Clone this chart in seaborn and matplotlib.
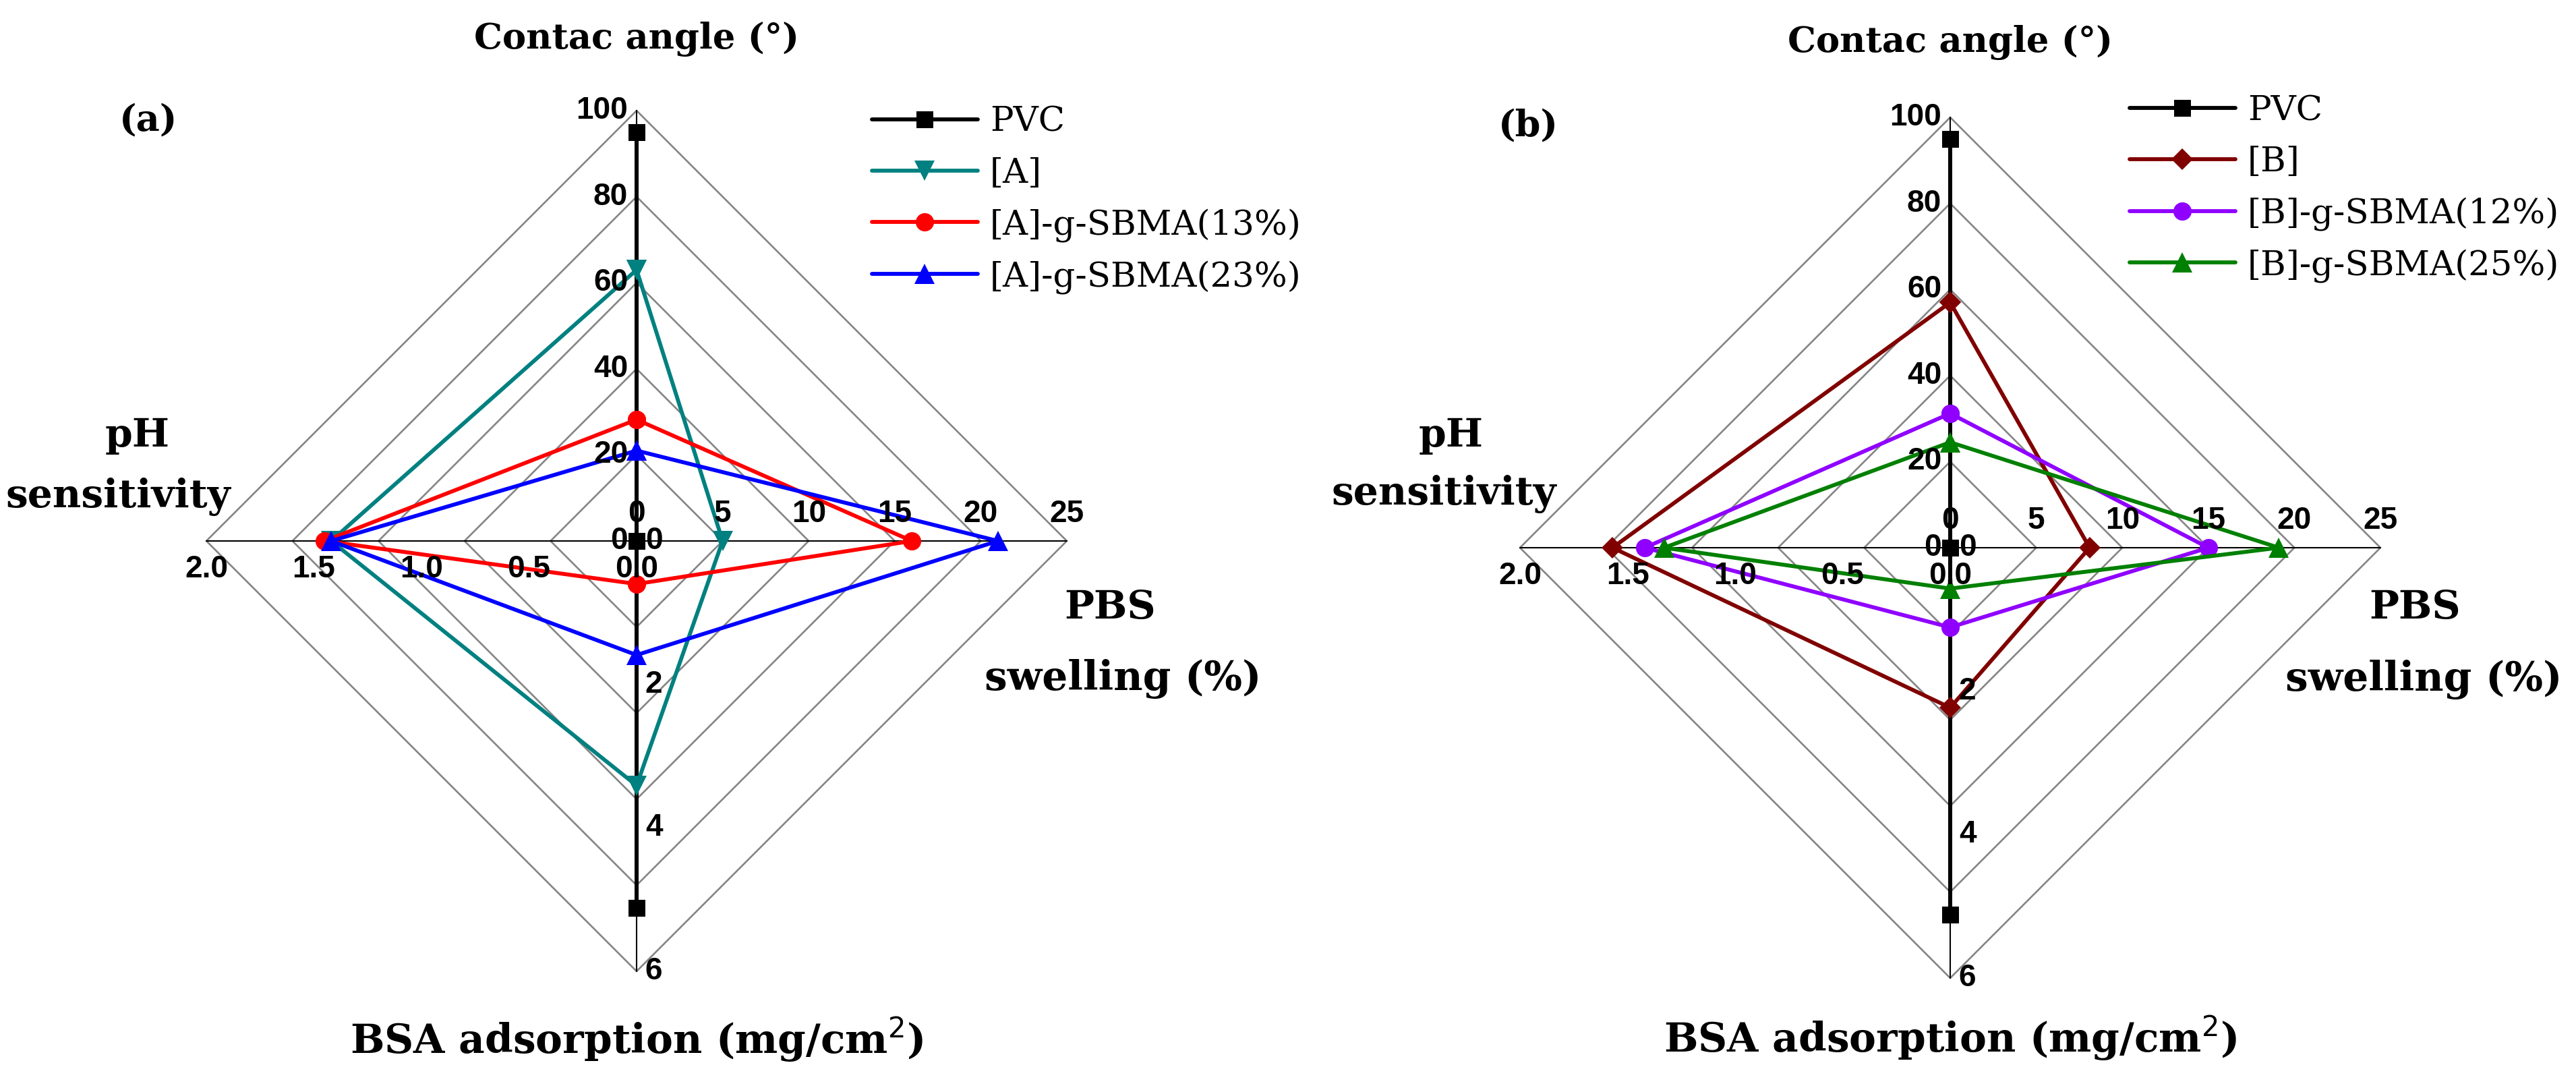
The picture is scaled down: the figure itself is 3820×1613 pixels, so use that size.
import numpy as np
import pandas as pd
import seaborn as sns
import matplotlib.pyplot as plt

# radar axes: top, right, bottom, left
axis_max = [100, 25, 6, 2.0]

ticks_ca = [0, 20, 40, 60, 80, 100]
ticks_pbs = [0, 5, 10, 15, 20, 25]
ticks_bsa = [0, 2, 4, 6]
ticks_ph = [0.0, 0.5, 1.0, 1.5, 2.0]

# values: contact angle, PBS swelling, BSA adsorption, pH sensitivity
pvc = [95, 0, 5.12, 0]

labels_a = ['PVC', '[A]', '[A]-g-SBMA(13%)', '[A]-g-SBMA(23%)']
a_pure = [63, 5.0, 3.41, 1.42]
a_13 = [28.2, 16.0, 0.60, 1.45]
a_23 = [21.0, 21.0, 1.59, 1.42]

labels_b = ['PVC', '[B]', '[B]-g-SBMA(12%)', '[B]-g-SBMA(25%)']
b_pure = [57, 8.1, 2.23, 1.57]
b_12 = [31.2, 15.0, 1.11, 1.42]
b_25 = [24.5, 19.1, 0.57, 1.33]

colors_a = ['black', '#008080', '#ff0000', '#0000ff']
markers_a = ['s', 'v', 'o', '^']
colors_b = ['black', '#800000', '#8f00ff', '#008000']
markers_b = ['s', 'D', 'o', '^']

sns.set_style('white')
plt.rcParams['font.family'] = ['DejaVu Serif']
plt.rcParams['text.color'] = 'black'

W, H = 3820, 1613
fig = plt.figure(figsize=(W / 100, H / 100), dpi=100)

dirs = np.array([[0, 1], [1, 0], [0, -1], [-1, 0]])


def to_xy(vals):
    r = np.array(vals) / np.array(axis_max)
    pts = dirs * r[:, None]
    pts = np.vstack([pts, pts[:1]])
    return pd.DataFrame({'x': pts[:, 0], 'y': pts[:, 1]})


msize = {'s': 18, 'v': 21, 'o': 19.5, '^': 21, 'D': 16}


def panel(cx, cy, R, tag, series, labels, colors, markers, pos):
    ax = fig.add_axes([(cx - 1.45 * R) / W, (H - cy - 1.26 * R) / H, 2.9 * R / W, 2.52 * R / H])
    ax.set_xlim(-1.45, 1.45)
    ax.set_ylim(-1.26, 1.26)
    ax.axis('off')

    # grid rings
    for r in [0.2, 0.4, 0.6, 0.8, 1.0]:
        ax.plot([0, r, 0, -r, 0], [r, 0, -r, 0, r], color='#858585', linewidth=1.9, zorder=1)
    ax.plot([-1, 1], [0, 0], color='black', linewidth=1.5, zorder=2)
    ax.plot([0, 0], [-1, 1], color='black', linewidth=1.5, zorder=2)

    handles = []
    for vals, lab, col, mk in zip(series, labels, colors, markers):
        df = to_xy(vals)
        sns.lineplot(data=df, x='x', y='y', sort=False, estimator=None, ax=ax,
                     color=col, marker=mk, markersize=msize[mk],
                     markeredgecolor=col, markeredgewidth=0, zorder=3)
        line = ax.lines[-1]
        line.set_linewidth(4.2)
        handles.append(line)
    leg = ax.legend(handles, labels, loc='center left', bbox_to_anchor=pos['leg'],
                    bbox_transform=ax.transData, fontsize=37, frameon=True,
                    facecolor='white', edgecolor='none', framealpha=1,
                    borderpad=0, borderaxespad=0, handlelength=3.05,
                    handletextpad=0.35, labelspacing=0.52)
    leg.set_zorder(5)

    tick_kw = dict(family='Liberation Sans', fontweight='bold', fontsize=33, zorder=4)
    for v in ticks_ca:
        ax.text(-0.02, v / 100, f'{v}', ha='right', va='center', **tick_kw)
    for v in ticks_pbs:
        ax.text(v / 25, 0.062, f'{v}', ha='center', va='center', **tick_kw)
    for v in ticks_bsa:
        ax.text(0.02, -v / 6, f'{v}', ha='left', va='center', **tick_kw)
    for v in ticks_ph:
        ax.text(-v / 2, -0.066, f'{v:.1f}', ha='center', va='center', **tick_kw)

    tk = dict(fontweight='bold', ha='center', va='center')
    ax.text(0, pos['top'], 'Contac angle (°)', fontsize=38, **tk)
    ax.text(0, pos['bottom'], 'BSA adsorption (mg/cm$^2$)', fontsize=43, **tk)
    ax.text(*pos['pbs'], 'PBS', fontsize=42, **tk)
    ax.text(*pos['swell'], 'swelling (%)', fontsize=43, **tk)
    ax.text(*pos['ph'], 'pH', fontsize=42, **tk)
    ax.text(*pos['sens'], 'sensitivity', fontsize=42, **tk)
    ax.text(*pos['tag'], tag, fontsize=39, **tk)


panel(944, 802, 638, '(a)', [pvc, a_pure, a_13, a_23], labels_a, colors_a, markers_a,
      dict(leg=(0.547, 0.793), top=1.166, bottom=-1.158,
           pbs=(1.10, -0.155), swell=(1.13, -0.321),
           ph=(-1.16, 0.245), sens=(-1.205, 0.102), tag=(-1.135, 0.978)))
panel(2892, 812, 638, '(b)', [pvc, b_pure, b_12, b_25], labels_b, colors_b, markers_b,
      dict(leg=(0.417, 0.835), top=1.174, bottom=-1.14,
           pbs=(1.08, -0.14), swell=(1.10, -0.306),
           ph=(-1.16, 0.26), sens=(-1.176, 0.125), tag=(-0.98, 0.981)))

fig.savefig('out.png', dpi=100, facecolor='white')
